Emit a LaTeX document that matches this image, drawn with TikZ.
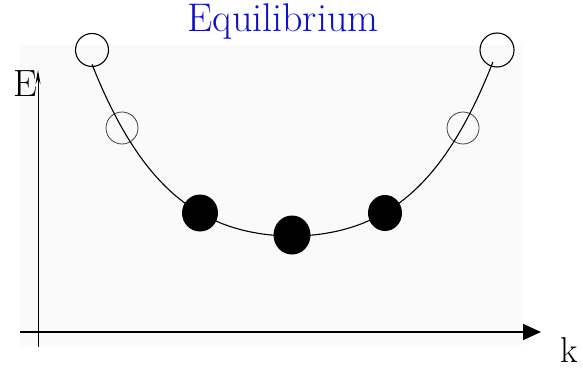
\documentclass[tikz,border=0pt]{standalone}
\usetikzlibrary{arrows.meta,shapes.geometric}
\definecolor{titleblue}{HTML}{1010C8}
\definecolor{panelfill}{HTML}{FAFAFA}

\begin{document}
\begin{tikzpicture}[
  x=1pt, y=-1pt,
  axis/.style={draw=black},
  ring/.style={circle, draw=black, line width=1.1pt, minimum size=33pt, inner sep=0pt},
  ringgray/.style={circle, draw=black!75, line width=0.8pt, minimum size=32pt, inner sep=0pt},
  ball/.style={ellipse, fill=black, inner sep=0pt},
  label/.style={font=\fontsize{40}{44}\selectfont, inner sep=0pt}
]
\useasboundingbox (0,0) rectangle (583,369);
\fill[panelfill] (20,45) rectangle (522,346);

% Title
\node[label, text=titleblue] (title) at (283,22) {Equilibrium};

% Axes
\coordinate (yBase) at (38,347);
\coordinate (yTop) at (38,70);
\coordinate (xBase) at (20,332);
\coordinate (xTip) at (541,332);
\draw[axis, line width=0.8pt, -{Stealth[length=14pt,width=5pt]}] (yBase) -- (yTop);
\draw[axis, line width=1.8pt, -{Triangle[length=18pt,width=16pt]}] (xBase) -- (xTip);
\node[label, font=\fontsize{38}{42}\selectfont] (labelE) at (25,84) {E};
\node[label, font=\fontsize{36}{40}\selectfont, anchor=east] (labelK) at (578,350) {k};

% Particles on the band
\node[ring] (topL) at (92,50) {};
\node[ringgray] (ringL) at (122,128) {};
\node[ring, minimum size=34pt] (topR) at (497,50) {};
\node[ringgray] (ringR) at (463,128) {};

% Band: E(k) around the minimum at ballM
\draw[line width=1.1pt] plot[domain=-2:2.01, samples=80, smooth]
  ({292+100*\x}, {236-22.95*\x*\x-4.99*\x*\x*\x*\x});

\node[ball, minimum width=36pt, minimum height=37pt] (ballL) at (200,213) {};
\node[ball, minimum width=37pt, minimum height=39pt] (ballM) at (292,235) {};
\node[ball, minimum width=34pt, minimum height=36pt] (ballR) at (385,213) {};
\end{tikzpicture}
\end{document}
